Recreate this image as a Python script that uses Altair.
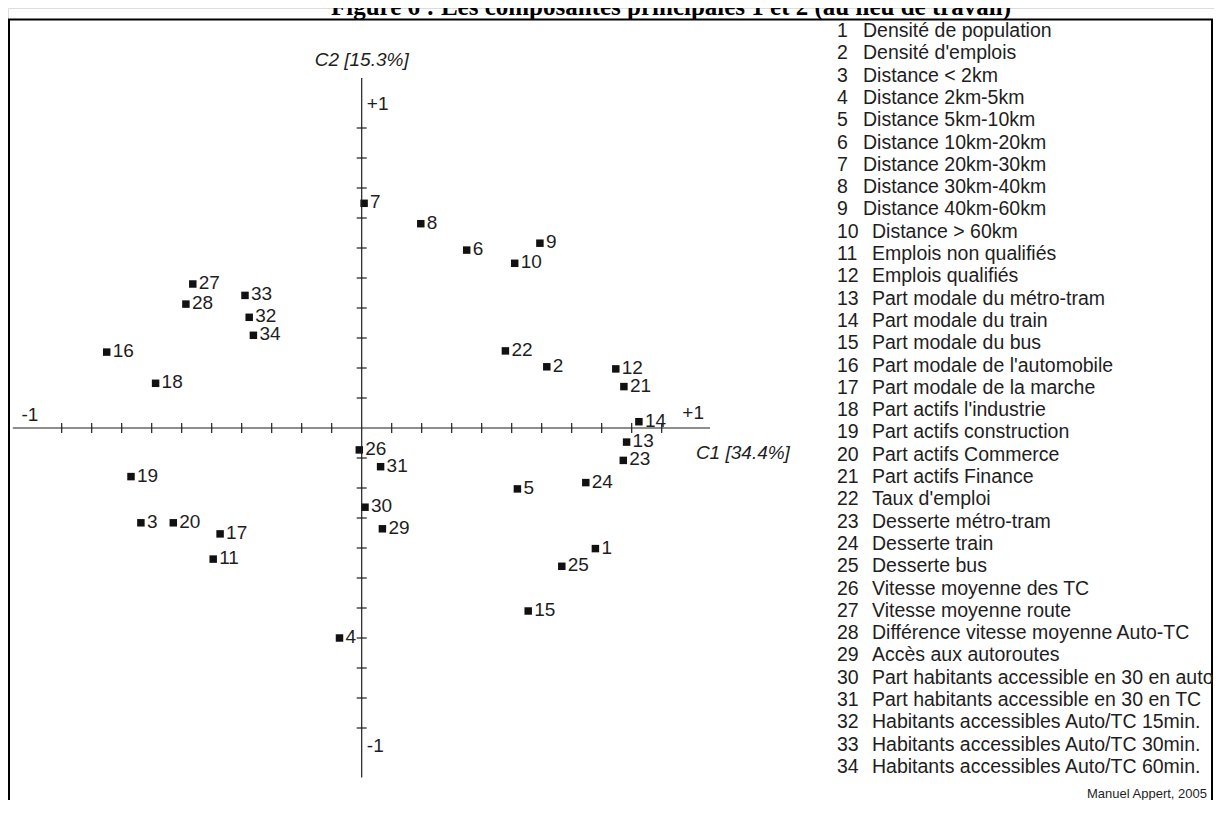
import altair as alt
import pandas as pd

# ---------------- data ----------------
ids = list(range(1, 35))
c1 = [0.779, 0.617, -0.736, -0.074, 0.519, 0.350, 0.008, 0.197, 0.594, 0.510,
      -0.495, 0.847, 0.883, 0.924, 0.555, -0.850, -0.472, -0.687, -0.769, -0.628,
      0.874, 0.479, 0.872, 0.747, 0.667, -0.008, -0.563, -0.586, 0.069, 0.011,
      0.063, -0.375, -0.389, -0.361]
c2 = [-0.402, 0.204, -0.316, -0.700, -0.203, 0.593, 0.749, 0.681, 0.616, 0.549,
      -0.437, 0.197, -0.047, 0.021, -0.610, 0.253, -0.353, 0.149, -0.162, -0.316,
      0.138, 0.257, -0.108, -0.182, -0.461, -0.073, 0.480, 0.413, -0.336, -0.264,
      -0.129, 0.369, 0.442, 0.309]
names = [
    "Densité de population", "Densité d'emplois", "Distance < 2km",
    "Distance 2km-5km", "Distance 5km-10km", "Distance 10km-20km",
    "Distance 20km-30km", "Distance 30km-40km", "Distance 40km-60km",
    "Distance > 60km", "Emplois non qualifiés", "Emplois qualifiés",
    "Part modale du métro-tram", "Part modale du train", "Part modale du bus",
    "Part modale de l'automobile", "Part modale de la marche",
    "Part actifs l'industrie", "Part actifs construction",
    "Part actifs Commerce", "Part actifs Finance", "Taux d'emploi",
    "Desserte métro-tram", "Desserte train", "Desserte bus",
    "Vitesse moyenne des TC", "Vitesse moyenne route",
    "Différence vitesse moyenne Auto-TC", "Accès aux autoroutes",
    "Part habitants accessible en 30 en auto",
    "Part habitants accessible en 30 en TC",
    "Habitants accessibles Auto/TC 15min.",
    "Habitants accessibles Auto/TC 30min.",
    "Habitants accessibles Auto/TC 60min.",
]
tick_values = [-1.0, -0.9, -0.8, -0.7, -0.6, -0.5, -0.4, -0.3, -0.2, -0.1,
               0.1, 0.2, 0.3, 0.4, 0.5, 0.6, 0.7, 0.8, 0.9, 1.0]
title_text = "Figure 6 : Les composantes principales 1 et 2 (au lieu de travail)"
x_title = "C1 [34.4%]"
y_title = "C2 [15.3%]"
credit = "Manuel Appert, 2005"

# ---------------- layout ----------------
W, H = 1206, 792
OX, OY, UNIT = 353.7, 420.0, 300.0
xdom = [-OX / UNIT, (W - OX) / UNIT]
ydom = [(OY - H) / UNIT, OY / UNIT]
xs = alt.Scale(domain=xdom, nice=False, zero=False)
ys = alt.Scale(domain=ydom, nice=False, zero=False)
INK = "#1e1e1e"
FONT = "Liberation Sans"
TK = 5 / UNIT


def px_x(p):
    return (p - OX) / UNIT


pts = pd.DataFrame({"id": [str(i) for i in ids], "c1": c1, "c2": c2})
one = pd.DataFrame({"a": [0]})
tk = pd.DataFrame({"t": tick_values})
leg = pd.DataFrame({"n": ids, "num": [str(i) for i in ids], "name": names})


def X(f):
    return alt.X(f, scale=xs, axis=None)


def Y(f):
    return alt.Y(f, scale=ys, axis=None)


def XD(v):
    return alt.XDatum(v, scale=xs, axis=None)


def YD(v):
    return alt.YDatum(v, scale=ys, axis=None)


squares = alt.Chart(pts).mark_square(size=56, color="#111", opacity=1, filled=True).encode(
    x=X("c1:Q"), y=Y("c2:Q"))
plabels = alt.Chart(pts).mark_text(
    align="left", baseline="alphabetic", dx=6, dy=5, fontSize=19, font=FONT, color=INK
).encode(x=X("c1:Q"), y=Y("c2:Q"), text="id:N")

hline = alt.Chart(one).mark_rule(color=INK, strokeWidth=1.2).encode(
    x=XD(-1.163), x2=alt.datum(1.161), y=YD(0))
vline = alt.Chart(one).mark_rule(color=INK, strokeWidth=1.2).encode(
    x=XD(0), y=YD(-1.165), y2=alt.datum(1.167))
xticks = alt.Chart(tk).mark_rule(color=INK, strokeWidth=1.2).encode(
    x=X("t:Q"), y=YD(-TK), y2=alt.datum(TK))
yticks = alt.Chart(tk).mark_rule(color=INK, strokeWidth=1.2).encode(
    y=Y("t:Q"), x=XD(-TK), x2=alt.datum(TK))


def ann(txt, xv, yv, align="center", italic=False, size=19):
    return alt.Chart(one).mark_text(
        align=align, baseline="middle", fontSize=size, font=FONT, color=INK,
        fontStyle="italic" if italic else "normal"
    ).encode(x=XD(xv), y=YD(yv), text=alt.value(txt))


anns = [
    ann(y_title, 0.0, 1.227, italic=True),
    ann(x_title, 1.114, -0.083, align="left", italic=True),
    ann("+1", 1.105, 0.05),
    ann("-1", -1.106, 0.043),
    ann("+1", 0.017, 1.08, align="left"),
    ann("-1", 0.017, -1.06, align="left"),
]

# frame (left, top, right)
frame_l = alt.Chart(one).mark_rule(color="#000", strokeWidth=2).encode(
    x=alt.value(1), y=alt.value(11.5), y2=alt.value(H + 20))
frame_t = alt.Chart(one).mark_rule(color="#000", strokeWidth=2).encode(
    x=alt.value(0), x2=alt.value(W - 1), y=alt.value(11.5))
frame_r = alt.Chart(one).mark_rule(color="#000", strokeWidth=2).encode(
    x=alt.value(W - 2), y=alt.value(11.5), y2=alt.value(H + 20))

# legend list (positions expressed in the shared data scales)
row_y = f"({OY} - (29 + (datum.n - 1) * 22.3)) / {UNIT}"
leg_num = alt.Chart(leg).transform_calculate(
    ly=row_y, lx=str(px_x(829))
).mark_text(align="left", baseline="alphabetic", fontSize=19.5, font=FONT, color=INK).encode(
    x=X("lx:Q"), y=Y("ly:Q"), text="num:N")
leg_txt = alt.Chart(leg).transform_calculate(
    ly=row_y, lx=f"datum.n < 10 ? {px_x(855)} : {px_x(864)}"
).mark_text(align="left", baseline="alphabetic", fontSize=19.5, font=FONT, color=INK).encode(
    x=X("lx:Q"), y=Y("ly:Q"), text="name:N")

title = alt.Chart(one).mark_text(
    align="center", baseline="alphabetic", fontSize=25, font="Liberation Serif",
    fontWeight="bold", color="#000"
).encode(x=alt.value(663), y=alt.value(7), text=alt.value(title_text))
cred = alt.Chart(one).mark_text(
    align="right", baseline="alphabetic", fontSize=13, font=FONT, color=INK
).encode(x=alt.value(1199), y=alt.value(790), text=alt.value(credit))

chart = alt.layer(
    squares, frame_l, frame_t, frame_r, hline, vline, xticks, yticks, plabels,
    *anns, leg_num, leg_txt, title, cred
).properties(
    width=W, height=H, padding=0, autosize=alt.AutoSizeParams(type="none")
).configure_view(stroke=None).configure(background="white")

chart.save("out.html", embed_options={"renderer": "svg", "actions": False})
